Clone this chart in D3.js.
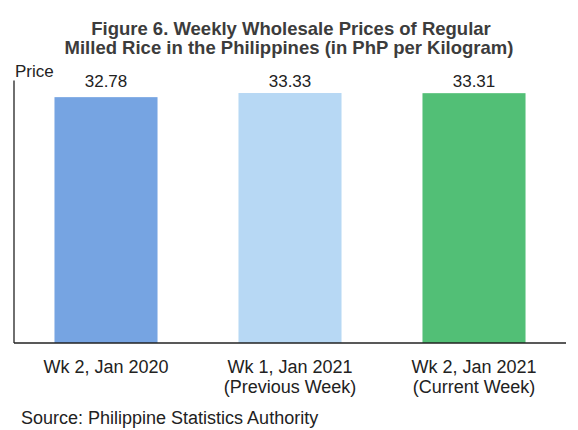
<!DOCTYPE html>
<html>
<head>
<meta charset="utf-8">
<script src="https://cdn.jsdelivr.net/npm/d3@7"></script>
<style>
  body { margin: 0; background: #fff; }
  text { font-family: "Liberation Sans", Arial, sans-serif; }
</style>
</head>
<body>
<div id="graphicContainer"></div>
<script>
var categories = ["Wk 2, Jan 2020", "Wk 1, Jan 2021", "Wk 2, Jan 2021"],
	subLabels = ["", "(Previous Week)", "(Current Week)"],
	prices = [32.78, 33.33, 33.31],
	barColors = ["#76a4e2", "#b7d8f4", "#52bf76"];

var width = 578,
	height = 430,
	axisLeft = 14,
	axisRight = 566,
	baseY = 343;

var svg = d3.select("#graphicContainer")
	.append("svg")
	.attr("width", width)
	.attr("height", height),
	g = svg.append("g");

var x = d3.scaleBand()
	.domain(categories)
	.range([axisLeft, axisRight])
	.paddingInner(0.44)
	.paddingOuter(0.22);

var y = d3.scaleLinear()
	.domain([0, 35])
	.range([baseY, baseY - 35 * 7.5]);

// title
svg.append("text")
	.attr("x", 291).attr("y", 35)
	.attr("text-anchor", "middle")
	.attr("font-size", "18.5px").attr("font-weight", "bold")
	.attr("fill", "#3c3c3c")
	.text("Figure 6. Weekly Wholesale Prices of Regular");
svg.append("text")
	.attr("x", 289).attr("y", 54)
	.attr("text-anchor", "middle")
	.attr("font-size", "18.5px").attr("font-weight", "bold")
	.attr("fill", "#3c3c3c")
	.text("Milled Rice in the Philippines (in PhP per Kilogram)");

// bars
g.selectAll(".bar")
	.data(prices)
	.enter().append("rect")
	.attr("class", "bar")
	.attr("x", function(d, i){ return x(categories[i]) })
	.attr("width", x.bandwidth())
	.attr("y", function(d){ return y(d) })
	.attr("height", function(d){ return baseY - y(d) })
	.attr("fill", function(d, i){ return barColors[i] });

// value labels
g.selectAll(".valueText")
	.data(prices)
	.enter().append("text")
	.attr("class", "valueText")
	.attr("x", function(d, i){ return x(categories[i]) + x.bandwidth() / 2 })
	.attr("y", 87)
	.attr("text-anchor", "middle")
	.attr("font-size", "17px")
	.attr("fill", "#222")
	.text(function(d){ return d.toFixed(2) });

// axes lines
g.append("line")
	.attr("x1", axisLeft).attr("x2", axisLeft)
	.attr("y1", y(35)).attr("y2", baseY)
	.attr("stroke", "#222").attr("stroke-width", 1.3);
g.append("line")
	.attr("x1", axisLeft).attr("x2", axisRight)
	.attr("y1", baseY).attr("y2", baseY)
	.attr("stroke", "#222").attr("stroke-width", 1.3);

svg.append("text")
	.attr("x", 15).attr("y", 77)
	.attr("font-size", "17px")
	.attr("fill", "#222")
	.text("Price");

// category labels
var catText = g.selectAll(".catText")
	.data(categories)
	.enter().append("text")
	.attr("class", "catText")
	.attr("text-anchor", "middle")
	.attr("font-size", "18px")
	.attr("fill", "#222")
	.attr("transform", function(d){ return "translate(" + (x(d) + x.bandwidth() / 2) + ",373)" });

catText.append("tspan")
	.attr("x", 0).attr("y", 0)
	.text(function(d){ return d });
catText.append("tspan")
	.attr("x", 0).attr("y", 20)
	.text(function(d, i){ return subLabels[i] });

svg.append("text")
	.attr("x", 21).attr("y", 424)
	.attr("font-size", "18px")
	.attr("fill", "#222")
	.text("Source: Philippine Statistics Authority");
</script>
</body>
</html>
